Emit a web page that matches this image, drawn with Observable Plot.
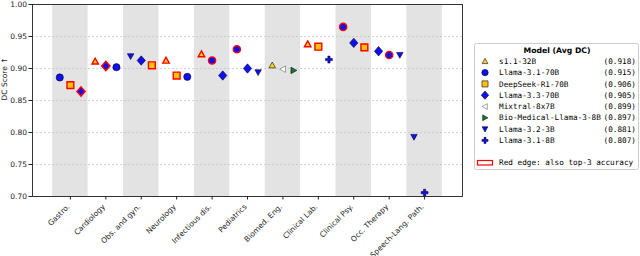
<!DOCTYPE html>
<html><head><meta charset="utf-8">
<script src="https://cdn.jsdelivr.net/npm/d3@7"></script>
<script src="https://cdn.jsdelivr.net/npm/@observablehq/plot@0.6"></script>
<style>
body{margin:0;background:#fff;}
#wrap{position:relative;width:640px;height:256px;}
#legend{position:absolute;left:0;top:0;}
</style></head><body><div id="wrap"></div>
<script>
const categories = ["Gastro.","Cardiology","Obs. and gyn.","Neurology","Infectious dis.","Pediatrics","Biomed. Eng.","Clinical Lab.","Clinical Psy.","Occ. Therapy","Speech-Lang. Path."];
const models = ["s1.1-32B","Llama-3.1-70B","DeepSeek-R1-70B","Llama-3.3-70B","Mixtral-8x7B","Bio-Medical-Llama-3-8B","Llama-3.2-3B","Llama-3.1-8B"];
const avgDC = ["0.918","0.915","0.906","0.905","0.899","0.897","0.881","0.807"];
const yTicks = [0.70,0.75,0.80,0.85,0.90,0.95,1.00];
const yLabel = "DC Score ↑";
// [category, model, DC score, also top-3 accuracy]
const points = [
  ["Gastro.","Llama-3.1-70B",0.886,false],["Gastro.","DeepSeek-R1-70B",0.874,true],["Gastro.","Llama-3.3-70B",0.864,true],
  ["Cardiology","s1.1-32B",0.911,true],["Cardiology","Llama-3.3-70B",0.904,true],["Cardiology","Llama-3.1-70B",0.902,false],
  ["Obs. and gyn.","Llama-3.2-3B",0.919,false],["Obs. and gyn.","Llama-3.3-70B",0.9125,false],["Obs. and gyn.","DeepSeek-R1-70B",0.905,true],
  ["Neurology","s1.1-32B",0.9125,true],["Neurology","DeepSeek-R1-70B",0.889,true],["Neurology","Llama-3.1-70B",0.887,false],
  ["Infectious dis.","s1.1-32B",0.9225,true],["Infectious dis.","Llama-3.1-70B",0.9125,true],["Infectious dis.","Llama-3.3-70B",0.889,false],
  ["Pediatrics","Llama-3.1-70B",0.930,true],["Pediatrics","Llama-3.3-70B",0.900,false],["Pediatrics","Llama-3.2-3B",0.894,false],
  ["Biomed. Eng.","s1.1-32B",0.905,false],["Biomed. Eng.","Mixtral-8x7B",0.899,false],["Biomed. Eng.","Bio-Medical-Llama-3-8B",0.897,false],
  ["Clinical Lab.","s1.1-32B",0.938,true],["Clinical Lab.","DeepSeek-R1-70B",0.934,true],["Clinical Lab.","Llama-3.1-8B",0.914,false],
  ["Clinical Psy.","Llama-3.1-70B",0.965,true],["Clinical Psy.","Llama-3.3-70B",0.940,false],["Clinical Psy.","DeepSeek-R1-70B",0.933,true],
  ["Occ. Therapy","Llama-3.3-70B",0.927,false],["Occ. Therapy","Llama-3.1-70B",0.921,true],["Occ. Therapy","Llama-3.2-3B",0.921,false],
  ["Speech-Lang. Path.","Llama-3.2-3B",0.793,false],["Speech-Lang. Path.","Llama-3.1-8B",0.706,false]
];

// ---- styles ----
function poly(pts){return {draw(ctx,size){const r=Math.sqrt(size/Math.PI);ctx.moveTo(pts[0][0]*r,pts[0][1]*r);for(let i=1;i<pts.length;i++)ctx.lineTo(pts[i][0]*r,pts[i][1]*r);ctx.closePath();}};}
const circleSym={draw(ctx,size){const r=Math.sqrt(size/Math.PI);ctx.moveTo(r,0);ctx.arc(0,0,r,0,2*Math.PI);}};
const t=0.9, p=0.3, q=0.95;
const symbols = {
  "s1.1-32B": poly([[0,-t],[t,t*0.8],[-t,t*0.8]]),
  "Llama-3.1-70B": circleSym,
  "DeepSeek-R1-70B": poly([[-0.95,-0.95],[0.95,-0.95],[0.95,0.95],[-0.95,0.95]]),
  "Llama-3.3-70B": poly([[0,-1.3],[1.15,0],[0,1.3],[-1.15,0]]),
  "Mixtral-8x7B": poly([[-t,0],[t*0.8,-t],[t*0.8,t]]),
  "Bio-Medical-Llama-3-8B": poly([[t,0],[-t*0.8,-t],[-t*0.8,t]]),
  "Llama-3.2-3B": poly([[0,t],[t,-t*0.8],[-t,-t*0.8]]),
  "Llama-3.1-8B": poly([[-p,-q],[p,-q],[p,-p],[q,-p],[q,p],[p,p],[p,q],[-p,q],[-p,p],[-q,p],[-q,-p],[-p,-p]])
};
const fills = {"s1.1-32B":"#ffd700","Llama-3.1-70B":"#1010ee","DeepSeek-R1-70B":"#ffc300","Llama-3.3-70B":"#1010ee","Mixtral-8x7B":"#ffffff","Bio-Medical-Llama-3-8B":"#1e7d1e","Llama-3.2-3B":"#1010ee","Llama-3.1-8B":"#1010ee"};
const edges = {"Mixtral-8x7B":"#666666"};
const R = 3.6;

const data = [];
const slotCount = {};
for (const [cat, model, value, top3] of points) {
  const slot = slotCount[cat] = (slotCount[cat] ?? -1) + 1;
  data.push({cat, model, value, top3, x: categories.indexOf(cat) + (slot - 1) * 0.3});
}
const bands = categories.map((c,i)=>({i})).filter(d=>d.i%2===0);
const catIdx = d3.range(categories.length);

const marks = [
  Plot.rect(bands, {x1: d=>d.i-0.5, x2: d=>d.i+0.5, fill: "#e3e3e3"}),
  Plot.gridY(yTicks, {stroke: "#b8b8b8", strokeOpacity: 1, strokeWidth: 0.6, strokeDasharray: "2,2"}),
  Plot.axisY(yTicks, {tickFormat: d3.format(".2f"), tickSize: 3.5, tickPadding: 2, label: null, fill: "#222", stroke: "#222"}),
  Plot.text([yLabel], {frameAnchor: "left", rotate: -90, dx: -28, fill: "#222", text: d=>d}),
  Plot.axisX(catIdx, {tickFormat: () => "", tickSize: 3.5, label: null, stroke: "#222"}),
  Plot.text(catIdx, {x: i=>i, frameAnchor: "bottom", text: i=>categories[i], rotate: -45, textAnchor: "end", lineAnchor: "middle", dx: -2, dy: 9, fill: "#222"}),
];
for (const m of models) {
  const sub = data.filter(d=>d.model===m);
  if (!sub.length) continue;
  marks.push(Plot.dot(sub, {x: "x", y: "value", symbol: symbols[m], r: R, fill: fills[m],
    stroke: d=>d.top3 ? "#ff0000" : (edges[m] || "#000033"), strokeWidth: d=>d.top3 ? 1.4 : 0.6}));
}
marks.push(Plot.frame({stroke: "#222", strokeWidth: 0.9}));

const chart = Plot.plot({
  width: 640, height: 256,
  marginLeft: 32, marginRight: 178, marginTop: 4, marginBottom: 60,
  style: {fontFamily: "DejaVu Sans", fontSize: "7.5px", background: "#fff", color: "#222"},
  x: {domain: [-1.07, categories.length - 1 + 1.07]},
  y: {domain: [0.70, 1.00]},
  color: {type: "identity"},
  marks
});
document.getElementById("wrap").appendChild(chart);

// ---- legend ----
const lg = d3.select("#wrap").append("svg").attr("id","legend").attr("width",640).attr("height",256)
  .style("font-family","DejaVu Sans Mono").style("font-size","7.7px");
lg.append("rect").attr("x",474.5).attr("y",43.5).attr("width",164).attr("height",126).attr("rx",2)
  .attr("fill","#fff").attr("stroke","#cccccc").attr("stroke-width",1);
lg.append("text").attr("x",557).attr("y",50).attr("dy","0.35em").attr("text-anchor","middle")
  .style("font-family","DejaVu Sans").style("font-weight","bold").text("Model (Avg DC)");
models.forEach((m,i)=>{
  const y = 61.3 + i*11.3;
  const path = d3.path(); symbols[m].draw(path, Math.PI*3.2*3.2);
  lg.append("path").attr("transform",`translate(485,${y})`).attr("d",path.toString())
    .attr("fill",fills[m]).attr("stroke",edges[m]||"#000033").attr("stroke-width",0.6);
  lg.append("text").attr("x",499).attr("y",y).attr("dy","0.35em").text(m);
  lg.append("text").attr("x",636).attr("y",y).attr("dy","0.35em").attr("text-anchor","end").text(`(${avgDC[i]})`);
});
lg.append("rect").attr("x",477.5).attr("y",160.5).attr("width",15).attr("height",4.5).attr("fill","#fff").attr("stroke","#ff0000").attr("stroke-width",1.2);
lg.append("text").attr("x",499).attr("y",162.7).attr("dy","0.35em").text("Red edge: also top-3 accuracy");
</script></body></html>
